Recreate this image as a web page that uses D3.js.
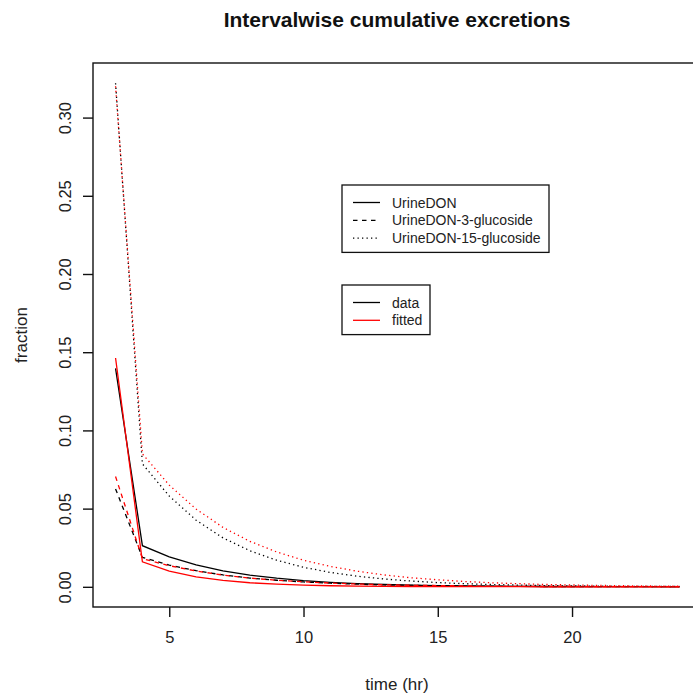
<!DOCTYPE html>
<html>
<head>
<meta charset="utf-8">
<script src="https://cdn.jsdelivr.net/npm/d3@7"></script>
<style>
  body { margin: 0; background: #fff; }
  svg { display: block; font-family: "Liberation Sans", Arial, sans-serif; }
  .tickText { font-size: 16.5px; fill: #222; }
  .axisTitle { font-size: 17px; fill: #222; }
  .legendText { font-size: 14px; fill: #222; }
</style>
</head>
<body>
<svg width="693" height="693"></svg>
<script>
WIDTH = 693;
HEIGHT = 693;

// hours of each collection interval
var times = [3, 4, 5, 6, 7, 8, 9, 10, 11, 12, 13, 14, 15, 16, 17, 18, 19, 20, 21, 22, 23, 24];

// observed fractions
var donData = [0.1396, 0.0263, 0.0192, 0.0140, 0.0102, 0.0075, 0.0055, 0.0040, 0.0029, 0.0021, 0.0015,
  0.0011, 0.0008, 0.0006, 0.0004, 0.0003, 0.0002, 0.0002, 0.0001, 0.0001, 0.0001, 0.0000];
var don3Data = [0.0626, 0.0188, 0.0139, 0.0103, 0.0076, 0.0056, 0.0042, 0.0031, 0.0023, 0.0017, 0.0012,
  0.0009, 0.0007, 0.0005, 0.0004, 0.0003, 0.0002, 0.0001, 0.0001, 0.0001, 0.0001, 0.0001];
var don15Data = [0.3220, 0.0786, 0.0580, 0.0426, 0.0313, 0.0231, 0.0170, 0.0125, 0.0092, 0.0068, 0.0050,
  0.0037, 0.0027, 0.0020, 0.0015, 0.0011, 0.0008, 0.0006, 0.0004, 0.0003, 0.0002, 0.0002];

// fitted fractions
var donFit = [0.1463, 0.0160, 0.0100, 0.0064, 0.0041, 0.0026, 0.0017, 0.0011, 0.0007, 0.0005, 0.0003,
  0.0002, 0.0001, 0.0001, 0.0001, 0.0001, 0.0000, 0.0000, 0.0000, 0.0000, 0.0000, 0.0000];
var don3Fit = [0.0705, 0.0180, 0.0135, 0.0101, 0.0075, 0.0056, 0.0042, 0.0032, 0.0024, 0.0018, 0.0013,
  0.0010, 0.0008, 0.0006, 0.0004, 0.0003, 0.0002, 0.0002, 0.0001, 0.0001, 0.0001, 0.0001];
var don15Fit = [0.3200, 0.0850, 0.0650, 0.0497, 0.0380, 0.0291, 0.0223, 0.0170, 0.0130, 0.0100, 0.0076,
  0.0058, 0.0045, 0.0034, 0.0026, 0.0020, 0.0015, 0.0012, 0.0009, 0.0007, 0.0005, 0.0004];

var xTicks = [5, 10, 15, 20];
var yTicks = [0.00, 0.05, 0.10, 0.15, 0.20, 0.25, 0.30];
var compounds = ['UrineDON', 'UrineDON-3-glucoside', 'UrineDON-15-glucoside'];
var kinds = ['data', 'fitted'];

var DASH = ['none', '4.5,4.5', '1.3,3.2'];
var COLS = ['#000', '#ff0000'];

var svg = d3.select("svg");

// R style 4% padding on both axes
var x = d3.scaleLinear().domain([2.16, 24.84]).range([93, 702]);
var y = d3.scaleLinear().domain([-0.0129, 0.3349]).range([607, 63]);

function drawChart () {
  drawLines();
  drawAxes();
  drawLegends();
}

function drawLines () {
  var series = [
    { vals: donData, lt: 0, col: 0 },
    { vals: don3Data, lt: 1, col: 0 },
    { vals: don15Data, lt: 2, col: 0 },
    { vals: donFit, lt: 0, col: 1 },
    { vals: don3Fit, lt: 1, col: 1 },
    { vals: don15Fit, lt: 2, col: 1 }
  ];
  var line = d3.line()
    .x(function (d, i) { return x(times[i]); })
    .y(function (d) { return y(d); });

  svg.selectAll(".series")
    .data(series)
    .enter().append("path")
    .attr("class", "series")
    .attr("d", function (s) { return line(s.vals); })
    .attr("fill", "none")
    .attr("stroke", function (s) { return COLS[s.col]; })
    .attr("stroke-width", 1.3)
    .attr("stroke-dasharray", function (s) { return DASH[s.lt]; });
}

function drawAxes () {
  // plot box (right side falls outside the picture)
  svg.append("rect")
    .attr("x", x.range()[0])
    .attr("y", y.range()[1])
    .attr("width", x.range()[1] - x.range()[0])
    .attr("height", y.range()[0] - y.range()[1])
    .attr("fill", "none")
    .attr("stroke", "#111")
    .attr("stroke-width", 1.4);

  var xAxis = d3.axisBottom(x).tickValues(xTicks).tickSize(10).tickPadding(14).tickFormat(d3.format("d"));
  var gx = svg.append("g").attr("transform", "translate(0," + y.range()[0] + ")").call(xAxis);
  gx.select(".domain").remove();
  gx.selectAll("line").attr("stroke", "#111").attr("stroke-width", 1.4);
  gx.selectAll("text").attr("class", "tickText").attr("font-family", null).attr("font-size", null);

  var yAxis = d3.axisLeft(y).tickValues(yTicks).tickSize(10).tickFormat(d3.format(".2f"));
  var gy = svg.append("g").attr("transform", "translate(" + x.range()[0] + ",0)").call(yAxis);
  gy.select(".domain").remove();
  gy.selectAll("line").attr("stroke", "#111").attr("stroke-width", 1.4);
  gy.selectAll("text")
    .attr("class", "tickText")
    .attr("font-family", null).attr("font-size", null)
    .attr("x", null).attr("dy", null)
    .attr("text-anchor", "middle")
    .attr("transform", "translate(-22,0) rotate(-90)");

  svg.append("text")
    .text("Intervalwise cumulative excretions")
    .attr("x", 397)
    .attr("y", 27)
    .attr("text-anchor", "middle")
    .attr("font-weight", "bold")
    .attr("font-size", "21px")
    .attr("fill", "#111");
  svg.append("text")
    .text("time (hr)")
    .attr("class", "axisTitle")
    .attr("x", 397)
    .attr("y", 690)
    .attr("text-anchor", "middle");
  svg.append("text")
    .text("fraction")
    .attr("class", "axisTitle")
    .attr("text-anchor", "middle")
    .attr("transform", "translate(27,335) rotate(-90)");
}

function drawLegend (left, top, w, labels, styleOf) {
  var rowH = 17.8;
  svg.append("rect")
    .attr("x", left)
    .attr("y", top)
    .attr("width", w)
    .attr("height", labels.length * rowH + 14)
    .attr("fill", "#fff")
    .attr("stroke", "#111")
    .attr("stroke-width", 1.3);
  labels.forEach(function (lab, i) {
    var cy = top + 17.5 + i * rowH;
    var st = styleOf(i);
    svg.append("line")
      .attr("x1", left + 11).attr("x2", left + 38)
      .attr("y1", cy).attr("y2", cy)
      .attr("stroke", st.col)
      .attr("stroke-width", 1.3)
      .attr("stroke-dasharray", st.dash);
    svg.append("text")
      .text(lab)
      .attr("class", "legendText")
      .attr("x", left + 50)
      .attr("y", cy)
      .attr("dy", "0.36em");
  });
}

function drawLegends () {
  drawLegend(342, 185, 207, compounds, function (i) { return { col: '#000', dash: DASH[i] }; });
  drawLegend(342, 285, 88, kinds, function (i) { return { col: COLS[i], dash: 'none' }; });
}

drawChart();
</script>
</body>
</html>
